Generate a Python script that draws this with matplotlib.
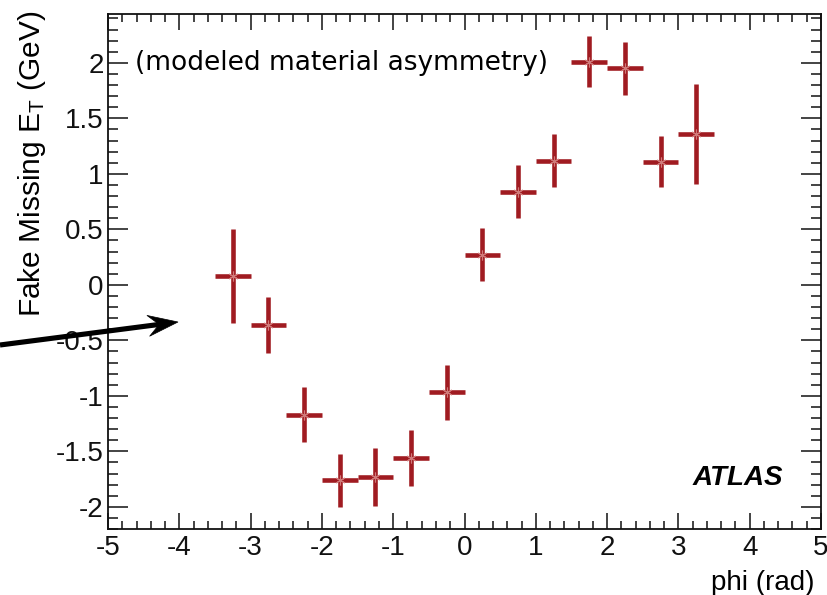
"""Fake missing ET vs phi (ATLAS style)"""

import numpy as np
import matplotlib
matplotlib.use("Agg")
import matplotlib.pyplot as plt
from matplotlib.patches import Polygon
from matplotlib.ticker import MultipleLocator

plt.rcParams['font.family'] = ['Liberation Sans', 'DejaVu Sans']
plt.rcParams['mathtext.default'] = 'regular'

# bin centres (rad) and values
phi = [-3.25, -2.75, -2.25, -1.75, -1.25, -0.75, -0.25,
       0.25, 0.75, 1.25, 1.75, 2.25, 2.75, 3.25]
fake_met = [0.08, -0.36, -1.17, -1.76, -1.73, -1.56, -0.97,
            0.27, 0.84, 1.12, 2.01, 1.95, 1.11, 1.36]
met_err = [0.42, 0.25, 0.25, 0.24, 0.26, 0.25, 0.25,
           0.24, 0.24, 0.24, 0.23, 0.24, 0.23, 0.45]
bin_half = [0.25] * len(phi)

red = '#a01b21'
W, H = 828, 595

fig = plt.figure(figsize=(W / 100, H / 100), dpi=100)
ax = fig.add_axes([108 / W, 66 / H, 713 / W, 515 / H])

ax.errorbar(phi, fake_met, xerr=bin_half, yerr=met_err,
            fmt='none', ecolor=red, elinewidth=3.3, capsize=0)
ax.plot(phi, fake_met, linestyle='none', marker=(6, 2, 0),
        markersize=7, markeredgewidth=0.8, color='#d07a7a')

ax.set_xlim(-5, 5)
ax.set_ylim(-2.2, 2.44)
ax.xaxis.set_major_locator(MultipleLocator(1))
ax.xaxis.set_minor_locator(MultipleLocator(0.2))
ax.yaxis.set_major_locator(MultipleLocator(0.5))
ax.yaxis.set_minor_locator(MultipleLocator(0.1))
ax.xaxis.set_major_formatter(plt.FuncFormatter(lambda v, p: f"{v:g}"))
ax.yaxis.set_major_formatter(plt.FuncFormatter(lambda v, p: f"{v:g}"))

ax.tick_params(axis='both', which='both', direction='in',
               top=True, right=True, width=1.1, labelsize=20,
               colors='#111111')
ax.tick_params(axis='x', which='major', length=11.5, pad=4)
ax.tick_params(axis='x', which='minor', length=5.8)
ax.tick_params(axis='y', which='major', length=14.4, pad=3)
ax.tick_params(axis='y', which='minor', length=7.5)
for s in ax.spines.values():
    s.set_linewidth(1.3)
    s.set_color('#111111')

# axis titles, ROOT style (aligned to the axis end)
fig.text(815 / W, 1 - 583 / H, 'phi (rad)', ha='right', va='center',
         fontsize=20)
fig.text(32 / W, 1 - 11 / H, r'Fake Missing E$_T$ (GeV)', rotation=90,
         ha='center', va='top', fontsize=21.5)

fig.text(135 / W, 1 - 63 / H, '(modeled material asymmetry)',
         family='DejaVu Sans', fontsize=19, ha='left', va='center')
fig.text(783 / W, 1 - 478 / H, 'ATLAS', fontsize=20, weight='bold',
         style='italic', ha='right', va='center')

# arrow pointing into the plot, with a notched (stealth) head
start = np.array([0.0, H - 345.0])
tip = np.array([178.0, H - 322.0])
d = (tip - start) / np.hypot(*(tip - start))
n = np.array([-d[1], d[0]])
head_len, head_w, notch = 30.0, 10.5, 19.0
base = tip - d * head_len
neck = tip - d * notch
fig.add_artist(plt.Line2D([start[0], neck[0]], [start[1], neck[1]],
                          transform=None, color='black', lw=3.7,
                          solid_capstyle='butt'))
fig.add_artist(Polygon([tip, base + n * head_w, neck, base - n * head_w],
                       closed=True, transform=None, facecolor='black',
                       edgecolor='black', lw=0.5))

fig.savefig('out.png', dpi=100)
